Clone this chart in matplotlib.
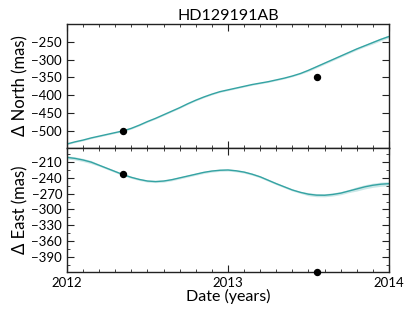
import matplotlib
matplotlib.use("Agg")
import matplotlib.pyplot as plt
from matplotlib.ticker import MultipleLocator
import numpy as np

# ---- data ----
t_model = [2012.00, 2012.05, 2012.10, 2012.15, 2012.20, 2012.25, 2012.30, 2012.35, 2012.40, 2012.45,
           2012.50, 2012.55, 2012.60, 2012.65, 2012.70, 2012.75, 2012.80, 2012.85, 2012.90, 2012.95,
           2013.00, 2013.05, 2013.10, 2013.15, 2013.20, 2013.25, 2013.30, 2013.35, 2013.40, 2013.45,
           2013.50, 2013.55, 2013.60, 2013.65, 2013.70, 2013.75, 2013.80, 2013.85, 2013.90, 2013.95,
           2014.00]
north_model = [-537, -531, -526, -520, -515, -510, -505, -500, -493, -484,
               -474, -465, -455, -445, -435, -424, -414, -405, -397, -390,
               -385, -380, -375, -370, -366, -362, -357, -352, -346, -339,
               -330, -320, -310, -300, -290, -280, -270, -261, -252, -243,
               -235]
east_model = [-201, -203, -206, -210, -216, -222, -228, -234, -239, -243,
              -246, -247, -246, -243.5, -240, -236.5, -233, -229.5, -227, -225.5,
              -225, -226.5, -229, -233, -238, -244.5, -251, -257, -263, -267.5,
              -271, -272.8, -273, -271.5, -269, -265, -261, -257, -254, -252,
              -251]
north_err = [2] * 30 + [3] * 8 + [4] * 3
east_err = [3] * 4 + [2] * 26 + [3] * 6 + [4] * 5

t_obs = [2012.35, 2013.55]
north_obs = [-500, -350]
east_obs = [-233, -419]

title = "HD129191AB"
xticks = [2012, 2013, 2014]

plt.rcParams['font.family'] = ['Lato', 'DejaVu Sans']

teal = '#35a3a3'
band = '#a8d8d8'

fig = plt.figure(figsize=(4.15, 3.12), dpi=100)
ax1 = fig.add_axes([0.1614, 0.526, 0.7759, 0.397])
ax2 = fig.add_axes([0.1614, 0.128, 0.7759, 0.398], sharex=ax1)

t = np.array(t_model)
for ax, model, err, obs in [(ax1, north_model, north_err, north_obs),
                            (ax2, east_model, east_err, east_obs)]:
    m = np.array(model); e = np.array(err)
    ax.fill_between(t, m - e, m + e, color=band, alpha=0.6, lw=0, zorder=1)
    ax.plot(t, m, color=teal, lw=1.0, zorder=2)
    ax.plot(t_obs, obs, 'o', color='black', ms=4.3, zorder=3, clip_on=False)
    ax.tick_params(which='both', direction='in', top=True, right=True, labelsize=9.5,
                   color='#222222')
    ax.tick_params(which='major', length=5, width=0.8)
    ax.tick_params(which='minor', length=2.5, width=0.6)
    ax.xaxis.set_minor_locator(MultipleLocator(0.1))
    for s in ax.spines.values():
        s.set_color('#222222')
        s.set_linewidth(1.0)

ax1.set_xlim(2012, 2014)
ax1.set_ylim(-548, -200)
ax1.set_yticks([-500, -450, -400, -350, -300, -250])
ax1.tick_params(labelbottom=False)
ax1.set_title(title, fontsize=11.5, pad=3)
ax1.set_ylabel("Δ North (mas)", fontsize=12, labelpad=2)

ax2.set_ylim(-419, -183)
ax2.set_yticks([-390, -360, -330, -300, -270, -240, -210])
ax2.yaxis.set_minor_locator(MultipleLocator(15))
ax2.set_xticks(xticks)
ax2.set_xticklabels([str(x) for x in xticks])
ax2.set_xlabel("Date (years)", fontsize=11.5, labelpad=0)
ax2.set_ylabel("Δ East (mas)", fontsize=12, labelpad=2)

fig.savefig("out.png", dpi=100)
